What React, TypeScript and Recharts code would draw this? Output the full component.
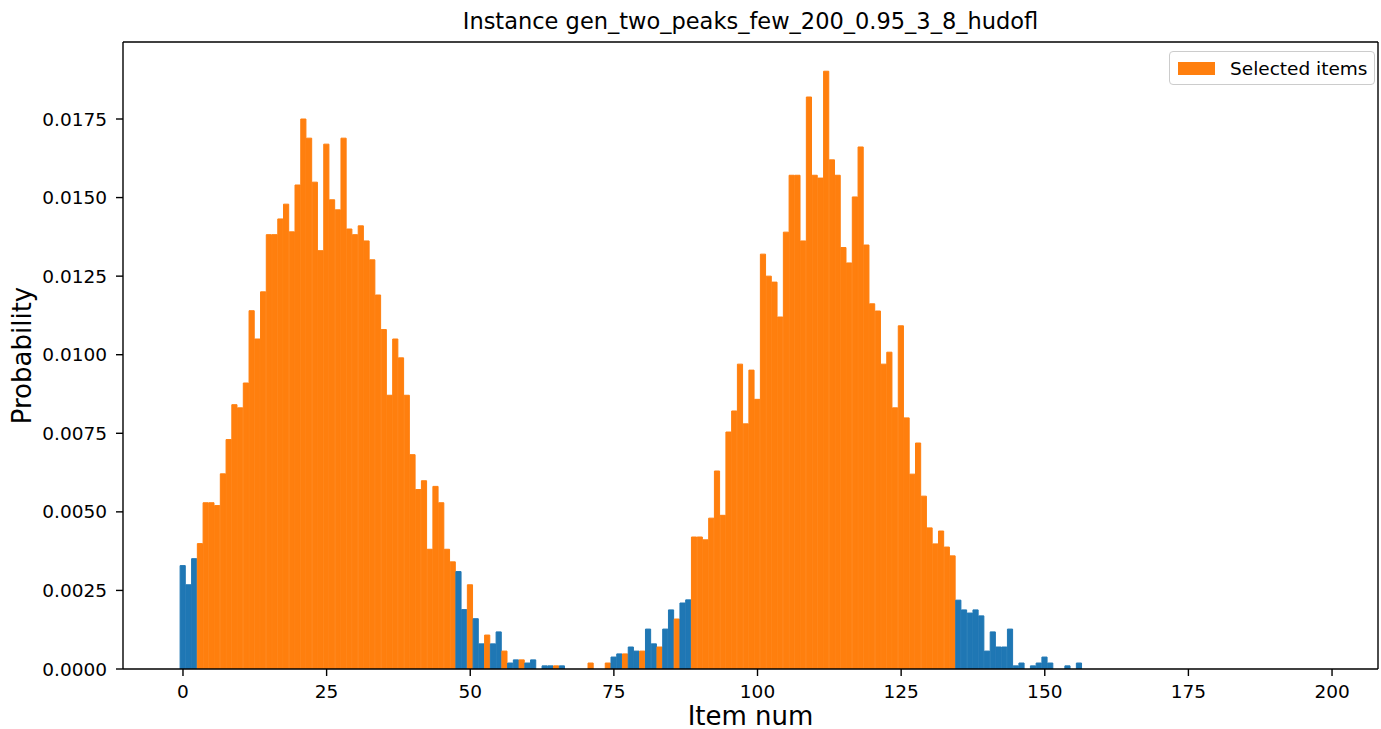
import React from 'react'
import {
  BarChart,
  Bar,
  XAxis,
  YAxis,
  Cell,
  ReferenceLine
} from 'recharts'

// probability of each item, index = item num (items after 156 are 0)
const probabilities = [
  0.00329, 0.00268, 0.00351, 0.00399, 0.00529, 0.00529, 0.0052, 0.00621, 0.0073, 0.00841,
  0.00831, 0.0091, 0.0114, 0.0105, 0.012, 0.01382, 0.01382, 0.01432, 0.01479, 0.01391,
  0.0154, 0.0175, 0.01689, 0.01549, 0.01331, 0.0167, 0.01493, 0.01461, 0.01689, 0.014,
  0.01382, 0.0141, 0.01362, 0.01302, 0.0119, 0.0108, 0.00871, 0.0105, 0.0099, 0.00871,
  0.00682, 0.00571, 0.00599, 0.00381, 0.00581, 0.00529, 0.00381, 0.00341, 0.0031, 0.00189,
  0.00268, 0.0016, 0.0008, 0.00108, 0.0008, 0.00118, 0.00057, 0.00019, 0.00029, 0.00029,
  0.00019, 0.00029, 0, 0.0001, 0.0001, 0.0001, 0.0001, 0, 0, 0,
  0, 0.00019, 0, 0, 0.00019, 0.00038, 0.00048, 0.00048, 0.0007, 0.00057,
  0.00057, 0.00127, 0.0008, 0.0007, 0.00127, 0.00188, 0.00159, 0.0021, 0.0022, 0.0042,
  0.0042, 0.00411, 0.0048, 0.0063, 0.00489, 0.00754, 0.00821, 0.0097, 0.0078, 0.00951,
  0.00858, 0.0132, 0.0125, 0.01231, 0.0112, 0.0139, 0.01571, 0.01571, 0.01362, 0.0182,
  0.01571, 0.01562, 0.01902, 0.0162, 0.01571, 0.01341, 0.01292, 0.01502, 0.01661, 0.01349,
  0.01162, 0.01139, 0.0097, 0.01008, 0.00831, 0.01092, 0.00799, 0.0062, 0.00719, 0.0055,
  0.00449, 0.00398, 0.00439, 0.00388, 0.0036, 0.00219, 0.00188, 0.00178, 0.00188, 0.00169,
  0.00057, 0.00118, 0.0007, 0.0007, 0.00127, 0.0001, 0.00019, 0, 0.0001, 0.00019,
  0.00038, 0.00019, 0, 0, 0.0001, 0, 0.00019
]

// selected items, as inclusive [first, last] ranges
const selectedRanges = [
  [3, 47], [50, 50], [53, 53], [56, 56], [59, 59], [65, 65], [71, 71],
  [74, 74], [77, 77], [80, 80], [83, 83], [86, 86], [89, 134]
]

const xTicks = [0, 25, 50, 75, 100, 125, 150, 175, 200]
const yTicks = [0, 0.0025, 0.005, 0.0075, 0.01, 0.0125, 0.015, 0.0175]

const title = 'Instance gen_two_peaks_few_200_0.95_3_8_hudofl'

const BLUE = '#1f77b4'
const ORANGE = '#ff7f0e'
const FONT = '"DejaVu Sans", sans-serif'

const isSelected = (i: number) => selectedRanges.some(([a, b]) => i >= a && i <= b)

const data = probabilities.map((p, i) => ({ item: i, probability: p, selected: isSelected(i) }))

const X_DOMAIN: [number, number] = [-10.44, 208.0]
const Y_DOMAIN: [number, number] = [0, 0.01995]

const tickStyle = { fill: '#000', fontSize: 18.5, fontFamily: FONT }

// matplotlib-like legend box, placed in the upper right of the axes
const LegendBox = () => (
  <div
    style={{
      position: 'absolute',
      left: 1169,
      top: 51,
      display: 'flex',
      alignItems: 'center',
      boxSizing: 'border-box',
      width: 206,
      height: 34,
      border: '1px solid #cccccc',
      borderRadius: 4,
      background: 'rgba(255,255,255,0.8)',
      fontFamily: FONT,
      fontSize: 18.5,
      color: '#000'
    }}
  >
    <span style={{ display: 'inline-block', width: 37, height: 13, background: ORANGE, marginLeft: 8, marginRight: 15 }} />
    <span>Selected items</span>
  </div>
)

export default function App() {
  return (
    <div style={{ position: 'absolute', left: 0, top: 0, width: 1381, height: 729, background: '#fff' }}>
      <BarChart
        width={1381}
        height={729}
        data={data}
        margin={{ top: 42, right: 3, bottom: 0, left: 0 }}
        barCategoryGap={0}
        barGap={0}
      >
        <XAxis
          dataKey="item"
          type="number"
          domain={X_DOMAIN}
          ticks={xTicks}
          allowDataOverflow
          height={60}
          tick={tickStyle}
          tickSize={7}
          tickMargin={9}
          axisLine={{ stroke: '#000', strokeWidth: 1.4 }}
          tickLine={{ stroke: '#000', strokeWidth: 1.4 }}
          label={(props: any) => {
            const vb = props.viewBox
            return (
              <text
                x={vb.x + vb.width / 2}
                y={vb.y + 56}
                textAnchor="middle"
                fontFamily={FONT}
                fontSize={26}
                fill="#000"
              >
                Item num
              </text>
            )
          }}
        />
        <YAxis
          type="number"
          domain={Y_DOMAIN}
          ticks={yTicks}
          allowDataOverflow
          width={123}
          tick={tickStyle}
          tickSize={7}
          tickMargin={9}
          tickFormatter={(v: number) => v.toFixed(4)}
          axisLine={{ stroke: '#000', strokeWidth: 1.4 }}
          tickLine={{ stroke: '#000', strokeWidth: 1.4 }}
          label={(props: any) => {
            const vb = props.viewBox
            const cx = vb.x + 31
            const cy = vb.y + vb.height / 2
            return (
              <text
                x={cx}
                y={cy}
                transform={`rotate(-90 ${cx} ${cy})`}
                textAnchor="middle"
                fontFamily={FONT}
                fontSize={26}
                fill="#000"
              >
                Probability
              </text>
            )
          }}
        />
        <Bar dataKey="probability" name="Selected items" barSize={5.75} isAnimationActive={false}>
          {data.map((d, index) => (
            <Cell
              key={`cell-${index}`}
              fill={d.selected ? ORANGE : BLUE}
              stroke={d.selected ? ORANGE : BLUE}
              strokeWidth={1}
            />
          ))}
        </Bar>
        {/* top and right spines, title sits above the top one */}
        <ReferenceLine
          y={Y_DOMAIN[1]}
          stroke="#000"
          strokeWidth={1.4}
          ifOverflow="visible"
          label={(props: any) => {
            const vb = props.viewBox
            return (
              <text
                x={vb.x + vb.width / 2}
                y={vb.y - 13}
                textAnchor="middle"
                fontFamily={FONT}
                fontSize={22.5}
                fill="#000"
              >
                {title}
              </text>
            )
          }}
        />
        <ReferenceLine x={X_DOMAIN[1]} stroke="#000" strokeWidth={1.4} ifOverflow="visible" />
      </BarChart>
      <LegendBox />
    </div>
  )
}
